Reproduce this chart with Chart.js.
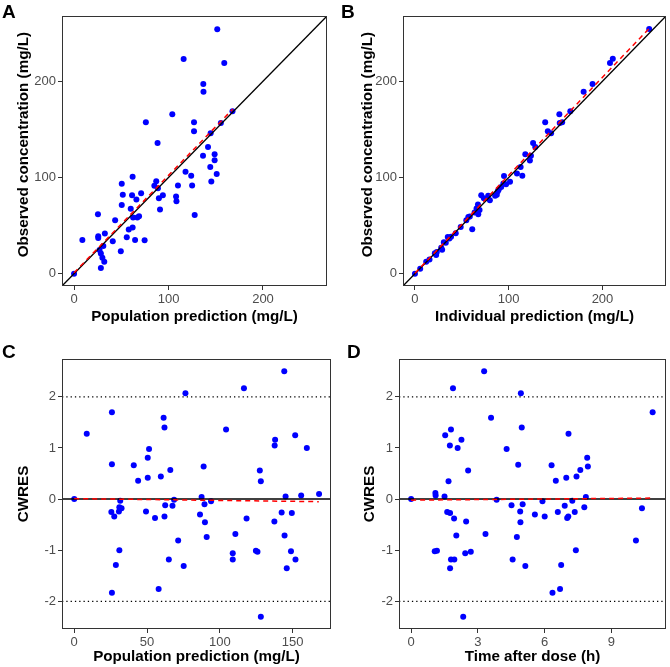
<!DOCTYPE html>
<html>
<head>
<meta charset="utf-8">
<script src="https://cdn.jsdelivr.net/npm/chart.js@4.4.1/dist/chart.umd.min.js"></script>
<style>
  body { margin: 0; background: #fff; font-family: "Liberation Sans", Arial, sans-serif; }
  .panel { position: absolute; }
  .tag { position: absolute; font: bold 19px "Liberation Sans", Arial, sans-serif; color: #000; }
</style>
</head>
<body>
<div class="panel" style="left:0;top:0"><canvas id="cA" width="335" height="330"></canvas></div>
<div class="panel" style="left:335px;top:0"><canvas id="cB" width="335" height="330"></canvas></div>
<div class="panel" style="left:0;top:330px"><canvas id="cC" width="335" height="337"></canvas></div>
<div class="panel" style="left:335px;top:330px"><canvas id="cD" width="335" height="337"></canvas></div>
<div class="tag" style="left:2px;top:1px">A</div>
<div class="tag" style="left:341px;top:1px">B</div>
<div class="tag" style="left:2px;top:341px">C</div>
<div class="tag" style="left:347px;top:341px">D</div>
<script>
// A: population prediction vs observed concentration
const predA = [0, 8.8, 25.3, 25.6, 25.6, 27, 28.4, 30, 32, 28.4, 31, 32.6, 41, 43.5, 49.5, 50.5, 51.6, 50.5,
  55.8, 57.9, 60, 61.4, 62, 62, 62.5, 64.6, 66, 67, 68.8, 71, 74.7, 76, 85, 87, 88.4, 88.8, 89.8, 91, 94,
  104, 108, 108.4, 110, 116, 118, 124, 125, 127, 127, 127.7, 136.8, 137, 136.5, 141.8, 144.6, 144.2, 145.3,
  148.8, 148.8, 151, 151.6, 155.4, 159, 167.7];
const obsA = [0, 35, 61.8, 37, 39, 24.7, 21, 16.7, 12.5, 6, 28.8, 41.7, 33.7, 55.6, 23.3, 93.4, 82, 71.5,
  37.8, 46, 67.4, 81.6, 100.7, 48, 58.3, 35, 77, 58.3, 59.7, 83.7, 34.7, 157.3, 91.3, 96, 135.8, 88.9, 78.5, 66.7, 81.6,
  165.6, 80.2, 75.3, 91.7, 223, 106, 101.7, 91.7, 157.3, 148, 61, 197, 189, 122.6, 131.6, 146, 111, 95.8,
  124, 118, 103.5, 254, 156.6, 218.8, 168.7];

// B: individual prediction vs observed concentration
const ipredB = [0, 5.6, 12, 15.5, 21.2, 23.3, 22.6, 28, 29, 30.8, 32.9, 35, 36.7, 38.5, 43.5, 48.8, 54.8, 56.9,
  58.5, 61.1, 63.6, 65.7, 67.2, 67.5, 68.9, 70.7, 73.5, 78.1, 79.9, 85.5, 87.3, 88.4, 89.4, 92, 94.3, 95, 97.2,
  101.4, 108.8, 112.7, 114.5, 117.7, 122.6, 123.7, 126, 128.3, 138.9, 141.7, 145.2, 154, 154.4, 157, 165.7,
  179.9, 189.4, 208, 211, 249.8];
const obsB = [0, 5.2, 12.5, 14.9, 21.2, 22.5, 19.5, 27, 25, 32.6, 32.3, 38.2, 36.5, 38.5, 42, 48.6, 55.5, 59,
  59.5, 46.2, 63.5, 67.7, 71.9, 61.8, 66.3, 81.6, 78.5, 80.9, 76.4, 80.9, 82, 85.8, 87.5, 90, 93.8, 101.4, 93,
  95.5, 104.2, 111, 101.7, 124, 117.7, 122.6, 135.8, 131.6, 157.3, 148, 146, 165.6, 156.6, 157.3, 168.8,
  189, 197.2, 218.8, 223.3, 254.2];

// C: population prediction vs CWRES
const predC = [0, 8.6, 25.9, 25.9, 25.5, 25.9, 27.5, 28.6, 31.6, 31, 30.7, 32.5, 31, 40.9, 43.9, 49.3, 50.5,
  50.5, 51.4, 55.5, 58, 59.5, 61.4, 62, 62, 62.5, 65, 66, 67.5, 68.6, 71.4, 75.2, 76.4, 86.4, 87.5, 88.9,
  89.5, 89.8, 91, 94, 104.3, 108.9, 108.9, 110.7, 116.6, 118.4, 124.8, 125.9, 127.5, 128.2, 128.2, 137.5,
  137.7, 138, 142.5, 144.3, 144.5, 145.2, 146, 148.9, 149.5, 151.8, 152, 155.9, 159.8, 168.2];
const cwresC = [0, 1.28, 1.70, 0.68, -0.25, -1.83, -0.34, -1.29, -0.03, -0.16, -0.24, -0.18, -1.0, 0.66, 0.36,
  -0.24, 0.42, 0.81, 0.98, -0.37, -1.76, 0.44, 1.59, 1.40, -0.34, -0.12, -1.18, 0.57, -0.13, -0.01, -0.81,
  -1.31, 2.07, -0.30, 0.04, 0.64, -0.10, -0.45, -0.74, -0.04, 1.36, -1.06, -1.18, -0.68, 2.17, -0.38, -1.01,
  -1.03, 0.56, 0.35, -2.30, -0.44, 1.05, 1.16, -0.26, 2.50, -0.71, 0.05, -1.35, -1.02, -0.27, 1.25, -1.18,
  0.07, 1.0, 0.10];

// D: time after dose vs CWRES
const timeD = [0, 1.06, 1.16, 1.09, 1.1, 1.5, 1.53, 1.62, 1.68, 1.75, 1.74, 1.79, 1.79, 1.75, 1.88, 1.93, 1.94,
  2.03, 2.09, 2.26, 2.34, 2.43, 2.47, 2.56, 2.68, 3.28, 3.34, 3.59, 3.84, 4.29, 4.51, 4.56, 4.75, 4.81, 4.9,
  4.91, 4.93, 4.97, 5.01, 5.13, 5.56, 5.9, 6.0, 6.31, 6.35, 6.5, 6.59, 6.69, 6.74, 6.9, 6.97, 7.01, 7.06, 7.07,
  7.24, 7.35, 7.4, 7.43, 7.6, 7.78, 7.85, 7.91, 7.94, 10.1, 10.37, 10.85];
const cwresD = [0, -1.02, -1.01, 0.12, 0.07, 0.05, 1.25, -0.25, 0.35, -0.27, 1.05, 1.36, -1.18, -1.35, 2.17,
  -0.38, -1.18, -0.71, 1.0, 1.16, -2.30, -1.06, -0.44, 0.56, -1.03, 2.50, -0.68, 1.59, -0.01, 0.98, -0.12,
  -1.18, -0.74, 0.67, -0.24, -0.45, 2.07, 1.40, -0.10, -1.31, -0.30, -0.04, -0.34, 0.66, -1.83, 0.36, -0.25,
  -1.76, -1.29, -0.13, 0.42, -0.37, -0.34, 1.28, -0.03, -0.25, -1.0, 0.44, 0.57, -0.16, 0.04, 0.81, 0.64,
  -0.81, -0.18, 1.70];

// smoother (red dashed) end points
const trendAx = [0, 168], trendAy = [1, 171];
const trendBx = [0, 250], trendBy = [0.5, 255];
const trendCx = [0, 168], trendCy = [0.01, -0.05];
const trendDx = [0, 10.9], trendDy = [-0.02, 0.02];

// axis limits and ticks
const limConc = [-12.75, 267.75];
const limPredC = [-8.4, 176.4];
const limTime = [-0.545, 11.45];
const limCwres = [-2.54, 2.74];
const ticksConc = [0, 100, 200];
const ticksPredC = [0, 50, 100, 150];
const ticksTime = [0, 3, 6, 9];
const ticksCwres = [-2, -1, 0, 1, 2];
const cwresBounds = [-2, 2];

const FONT = '"Liberation Sans", Arial, sans-serif';
const pts = (xs, ys) => xs.map((x, i) => ({ x: x, y: ys[i] }));

const frame = {
  id: 'frame',
  afterDatasetsDraw(chart) {
    const a = chart.chartArea, g = chart.ctx;
    g.save();
    g.strokeStyle = '#333';
    g.lineWidth = 1;
    g.strokeRect(Math.round(a.left) + 0.5, Math.round(a.top) + 0.5,
      Math.round(a.right - a.left) - 1, Math.round(a.bottom - a.top) - 1);
    g.restore();
  }
};

function axis(lim, ticks, title, isY, size, titlePad) {
  return {
    type: 'linear',
    min: lim[0],
    max: lim[1],
    afterBuildTicks: s => { s.ticks = ticks.map(v => ({ value: v })); },
    afterFit: s => { if (isY) s.width = size; else s.height = size; },
    grid: { drawOnChartArea: false, drawTicks: true, tickLength: 4, color: '#333' },
    border: { display: false },
    ticks: { color: '#4d4d4d', padding: 2, font: { family: FONT, size: 13 } },
    title: {
      display: true,
      text: title,
      color: '#000',
      padding: isY ? { top: titlePad, bottom: 0 } : { top: 0, bottom: titlePad },
      font: { family: FONT, size: 15.2, weight: 'bold' }
    }
  };
}

function makePanel(id, p) {
  const datasets = [
    { data: pts(p.trendX, p.trendY), showLine: true, pointRadius: 0, borderColor: '#ff0000',
      borderWidth: 1.5, borderDash: [5, 4] }
  ];
  p.refLines.forEach(r => datasets.push({ data: pts(r.x, r.y), showLine: true, pointRadius: 0,
    borderColor: r.color, borderWidth: r.width, borderDash: r.dash || [] }));
  datasets.push({ data: pts(p.xs, p.ys), pointRadius: 3, pointBackgroundColor: '#0000ff',
    pointBorderWidth: 0, borderColor: '#0000ff' });

  new Chart(document.getElementById(id), {
    type: 'scatter',
    data: { datasets: datasets },
    plugins: [frame],
    options: {
      responsive: false,
      animation: false,
      layout: { padding: p.pad },
      plugins: { legend: { display: false }, tooltip: { enabled: false } },
      scales: {
        x: axis(p.xLim, p.xTicks, p.xTitle, false, p.xh, p.xTitlePad),
        y: axis(p.yLim, p.yTicks, p.yTitle, true, p.yw, p.yTitlePad)
      }
    }
  });
}

const identity = lim => ({ x: lim, y: lim, color: '#000', width: 1.3 });
const hline = (lim, v, dash) => ({ x: lim, y: [v, v], color: '#000', width: dash ? 1.3 : 1.5, dash: dash });

makePanel('cA', {
  xs: predA, ys: obsA, trendX: trendAx, trendY: trendAy,
  refLines: [identity(limConc)],
  xLim: limConc, yLim: limConc, xTicks: ticksConc, yTicks: ticksConc,
  xTitle: 'Population prediction (mg/L)', yTitle: '   Observed concentration (mg/L)',
  pad: { top: 16, right: 8, left: 0, bottom: 0 }, yw: 62, xh: 44, yTitlePad: 14.4, xTitlePad: 4.4
});
makePanel('cB', {
  xs: ipredB, ys: obsB, trendX: trendBx, trendY: trendBy,
  refLines: [identity(limConc)],
  xLim: limConc, yLim: limConc, xTicks: ticksConc, yTicks: ticksConc,
  xTitle: 'Individual prediction (mg/L)', yTitle: '   Observed concentration (mg/L)',
  pad: { top: 16, right: 1, left: 0, bottom: 0 }, yw: 68, xh: 44, yTitlePad: 23.4, xTitlePad: 4.4
});
makePanel('cC', {
  xs: predC, ys: cwresC, trendX: trendCx, trendY: trendCy,
  refLines: [hline(limPredC, 0), hline(limPredC, cwresBounds[0], [1.3, 3]), hline(limPredC, cwresBounds[1], [1.3, 3])],
  xLim: limPredC, yLim: limCwres, xTicks: ticksPredC, yTicks: ticksCwres,
  xTitle: 'Population prediction (mg/L)', yTitle: 'CWRES',
  pad: { top: 29, right: 3, left: 0, bottom: 0 }, yw: 62, xh: 38, yTitlePad: 14.4, xTitlePad: 0.9
});
makePanel('cD', {
  xs: timeD, ys: cwresD, trendX: trendDx, trendY: trendDy,
  refLines: [hline(limTime, 0), hline(limTime, cwresBounds[0], [1.3, 3]), hline(limTime, cwresBounds[1], [1.3, 3])],
  xLim: limTime, yLim: limCwres, xTicks: ticksTime, yTicks: ticksCwres,
  xTitle: 'Time after dose (h)', yTitle: 'CWRES',
  pad: { top: 29, right: 1, left: 0, bottom: 0 }, yw: 64, xh: 38, yTitlePad: 26, xTitlePad: 0.9
});
</script>
</body>
</html>
